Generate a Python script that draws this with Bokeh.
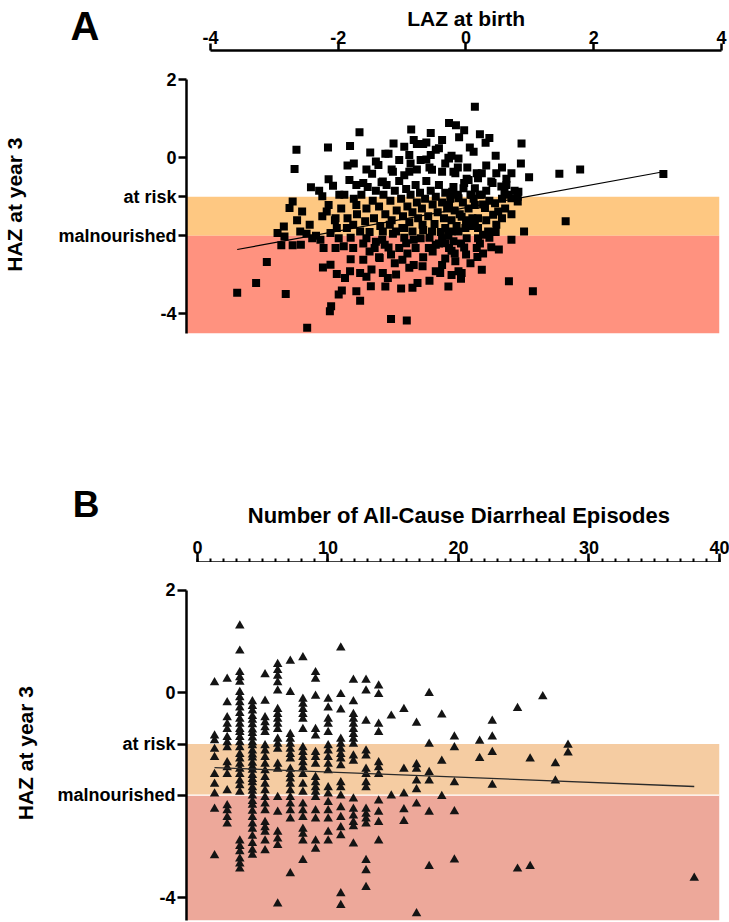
import math
from bokeh.plotting import figure
from bokeh.models import (LinearAxis, FixedTicker, SingleIntervalTicker, Range1d)
from bokeh.layouts import column, row
from bokeh.embed import file_html
from bokeh.resources import INLINE

# ---------------- data ----------------
at_risk = -1
malnourished = -2
haz_ticks = [2, 0, -1, -2, -4]
haz_tick_labels = {2: "2", 0: "0", -1: "at risk", -2: "malnourished", -4: "-4"}
laz_ticks = [-4, -2, 0, 2, 4]
laz_title = "LAZ at birth"
diarr_title = "Number of All-Cause Diarrheal Episodes"
haz_title = "HAZ at year 3"
panel_a_letter = "A"
panel_b_letter = "B"

# Panel A: LAZ at birth vs HAZ at year 3
laz_birth = [
    -2.71, -2.74, -2.21, -1.86, -1.71, -1.54, -1.80, -1.41, -1.51, -1.17, -1.00, -0.89, -0.80, -0.65,
    -0.58, -0.45, -0.29, -0.18, -0.13, -2.48, -2.30, -2.13, -2.03, -1.87, -1.76, -1.65, -1.36, -2.77,
    -2.82, -2.62, -2.91, -3.01, -2.90, -2.65, -2.50, -2.95, -2.77, -2.64, -2.46, -3.18, -3.35, -3.65,
    -2.88, -2.54, -2.18, -2.16, -2.04, -1.99, -1.76, -1.70, -1.53, -1.21, -0.96, -2.29, -2.17, -2.07,
    -1.94, -1.86, -1.70, -1.65, -1.52, -1.34, -1.26, -1.13, -1.03, -0.92, -0.87, -0.79, -0.71, -0.50,
    -0.43, -0.35, -0.14, -0.19, -2.28, -2.09, -1.96, -1.81, -2.33, -2.17, -2.04, -1.91, -2.09, -2.23,
    -2.20, -2.07, -1.76, -1.81, -1.62, -1.70, -1.60, -1.47, -1.55, -1.39, -1.31, -1.21, -1.08, -0.97,
    -0.82, -0.74, -0.61, -0.50, -0.40, -0.29, -0.22, -1.34, -1.23, -1.13, -1.03, -0.87, -0.71, -0.56,
    -0.35, -0.14,
    0.12, 0.04, -0.74, -0.92, -1.08, -0.58, -0.56, -0.29, -0.14, -0.40, -0.22, 0.02, 0.15, -0.92,
    -1.18, -1.34,
    0.29, 0.86, 0.85, 0.98, 1.46, 1.79, 3.11, 1.56, 0.90, 0.66, 1.04, 0.23, 0.38, 0.16, -0.09, -0.25,
    -0.02, 0.15, -0.01, 0.17, 0.25, 0.33, 0.46, 0.41, 0.49, 0.44, 0.17, -0.03, 0.17, 0.28, 0.12, -0.09,
    0.80, 0.70, 0.81, 0.59, 0.54, 0.46, 0.62, 0.38, 0.23, 0.17, -0.01, -0.06, 0.12, 0.23, -0.24, -0.19,
    0.07, -0.14, -0.29, 0.12, -0.35, -0.25,
    -1.68, -1.60, -1.58, -1.50, -1.48, -1.45, -1.40, -1.38, -1.33, -1.30, -1.28, -1.22, -1.20, -1.18,
    -1.15, -1.12, -1.08, -1.05, -1.02, -1.00, -0.97, -0.95, -0.92, -0.90, -0.87, -0.85, -0.82, -0.80,
    -0.78, -0.75, -0.72, -0.70, -0.67, -0.65, -0.62, -0.60, -0.58, -0.55, -0.52, -0.50, -0.47, -0.45,
    -0.42, -0.40, -0.37, -0.35, -0.32, -0.30, -0.27, -0.25, -0.22, -0.20, -0.17, -0.15, -0.12, -0.10,
    -0.07, -0.05, -0.02, 0.02, 0.05, 0.08, -1.55, -1.35, -1.25, -1.00, -0.95, -0.70, -0.55, -0.45,
    -0.20, -0.05, -1.45, -1.85, -1.90, -2.00, -1.95, -1.80, -1.75, -2.10, -2.30, -2.40, -2.55, -2.70,
    -1.65, -1.40, -1.15, -0.85, -0.60, -0.30, -0.10, -1.05, -1.30, -1.60, -1.85, -0.40, -0.25, 0.05,
    0.25, 0.30, 0.35, 0.30, 0.40, 0.55, 0.60, 0.65, 0.70, 0.55, 0.45, 0.35, 0.50, 0.70, 0.62, 0.75,
    0.80, 0.25, 0.20, 0.10, 0.05, 0.20, -0.15, -0.35, -0.60, -0.80, -1.00, -1.20, -1.45, -1.30, -0.50,
    -0.70, -0.25, 0.00, 0.10, 0.30, 0.45, 0.55, 0.70, 0.20, 0.35, -0.05, -0.40, -0.85, -1.25, -1.60,
    -2.20, -2.35, -1.90, -0.90, -0.65, -0.30,
]
haz_a = [
    0.20, -0.29, 0.26, 0.30, 0.65, 0.13, -0.15, -0.19, -0.41, 0.36, 0.28, 0.72, 0.35, 0.39,
    0.63, 0.24, 0.89, 0.83, 0.52, -0.76, -0.99, -0.72, -0.95, -0.57, -0.70, -0.65, -0.63, -1.12,
    -1.29, -1.38, -1.76, -1.93, -2.02, -1.89, -1.72, -2.24, -2.24, -2.23, -2.06, -2.67, -3.21, -3.46,
    -3.49, -4.35, -3.93, -3.80, -3.50, -3.40, -3.42, -3.66, -3.29, -4.13, -4.17, -2.81, -2.74, -2.98,
    -3.08, -2.91, -2.95, -2.61, -2.86, -2.95, -3.08, -2.99, -2.61, -2.82, -3.33, -3.21, -2.78, -2.91,
    -2.95, -2.58, -2.91, -2.65, -2.31, -2.31, -2.27, -2.31, -2.10, -1.93, -2.06, -1.80, -1.55, -1.38,
    -1.21, -1.80, -1.21, -1.72, -1.63, -1.89, -2.06, -2.31, -2.40, -2.57, -2.23, -2.48, -2.31, -2.19,
    -2.31, -2.06, -2.31, -2.23, -2.06, -2.31, -2.14, -1.89, -1.72, -1.89, -1.80, -1.89, -1.72, -1.89,
    -1.80, -1.89,
    1.30, 0.26, -0.06, 0.07, -0.06, 0.07, -0.31, -0.02, -0.02, -0.36, -0.36, -0.57, -0.40, -0.36,
    -0.36, -0.61,
    0.38, 0.36, -0.15, -0.50, -0.41, -0.30, -0.42, -1.63, -1.89, -3.16, -3.42, -2.87, -2.29, -2.54,
    -2.95, -2.38, -2.48, -2.31, -2.06, -2.06, -1.97, -1.89, -1.72, -1.46, -1.38, -1.17, -1.80, -1.80,
    -1.55, -1.29, -1.21, -1.51, -1.12, -1.04, -0.87, -0.87, -0.74, -0.40, -0.54, -0.61, -0.40, -0.53,
    -0.54, -0.78, -0.78, -0.95, -0.87, -0.40, -0.95, -1.04, -1.21, -1.72, -2.19, -1.89,
    -0.95, -1.30, -0.75, -1.10, -1.55, -0.85, -1.25, -1.75, -0.95, -1.45, -0.70, -1.10, -1.60, -1.95,
    -0.85, -1.35, -0.60, -1.05, -1.50, -1.80, -0.80, -1.25, -1.65, -0.95, -1.40, -2.10, -0.70, -1.15,
    -1.55, -0.90, -1.30, -1.85, -1.05, -0.60, -1.50, -2.05, -0.85, -1.20, -1.70, -1.00, -1.40, -0.70,
    -1.90, -1.15, -1.55, -0.90, -1.30, -2.00, -1.05, -1.60, -0.75, -1.35, -1.75, -0.95, -1.45, -2.20,
    -1.15, -0.65, -1.60, -1.30, -0.95, -1.55, -1.90, -2.10, -2.30, -2.05, -2.45, -2.55, -2.40, -2.20,
    -2.45, -2.30, -2.15, -2.05, -1.55, -1.30, -0.95, -1.05, -1.45, -1.60, -1.50, -2.00, -1.95, -1.60,
    -2.20, -2.55, -2.70, -2.75, -3.15, -3.30, -3.10, -3.35, -3.30, -3.05, -2.60, -2.75, -3.00, -2.70,
    -2.45, -1.60, -1.10, -0.85, -0.65, -1.05, -1.30, -0.95, -1.45, -1.55, -1.90, -2.05, -2.35, -2.10,
    -0.70, -0.85, -1.00, -1.20, -0.95, -1.05, -1.75, -2.20, -0.25, -0.15, -0.25, -0.30, -0.45, -0.30,
    -0.10, 0.10, 0.20, 0.35, 0.05, -0.25, 0.15, -0.20, 0.05, -0.25, -0.40, 0.60, 0.50, 0.70, 0.45,
    0.45, 0.10, -0.30, -0.55, -0.85, -0.20, -0.15, -0.05, 0.00,
]
fit_a_x = [-3.65, 3.11]
fit_a_y = [-2.35, -0.36]

# Panel B: number of all-cause diarrheal episodes vs HAZ at year 3
episodes = [
    0, 0, 0, 0, 0, 0, 0, 0, 0, 0,
    1, 1, 1, 1, 1, 1, 1, 1, 1, 1, 1, 1, 1, 1, 1, 1,
    2, 2, 2, 2, 2, 2, 2, 2, 2, 2, 2, 2, 2, 2, 2, 2, 2, 2, 2, 2, 2, 2, 2, 2, 2, 2, 2, 2, 2, 2, 2,
    3, 3, 3, 3, 3, 3, 3, 3, 3, 3, 3, 3, 3, 3, 3, 3, 3, 3, 3, 3, 3, 3, 3, 3, 3, 3, 3, 3, 3, 3, 3, 3, 3,
    4, 4, 4, 4, 4, 4, 4, 4, 4, 4, 4, 4, 4, 4, 4, 4, 4, 4, 4, 4, 4, 4,
    5, 5, 5, 5, 5, 5, 5, 5, 5, 5, 5, 5, 5, 5, 5, 5, 5, 5, 5, 5, 5,
    6, 6, 6, 6, 6, 6, 6, 6, 6, 6, 6, 6, 6, 6, 6, 6, 6, 6,
    7, 7, 7, 7, 7, 7, 7, 7, 7, 7, 7, 7, 7, 7, 7, 7, 7, 7, 7, 7, 7, 7,
    8, 8, 8, 8, 8, 8, 8, 8, 8, 8, 8, 8, 8, 8, 8, 8, 8,
    9, 9, 9, 9, 9, 9, 9, 9, 9, 9, 9, 9, 9, 9, 9, 9, 9,
    10, 10, 10, 10, 10, 10, 10, 10, 10, 10, 10, 10, 10, 10, 10, 10, 10, 10,
    11, 11, 11, 11, 11, 11, 11, 11, 11, 11, 11, 11, 11, 11, 11, 11, 11,
    12, 12, 12, 12, 12, 12, 12, 12, 12, 12, 12, 12, 12, 12, 12, 12,
    13, 13, 13, 13, 13, 13, 13, 13, 13, 13, 13,
    14, 14,
    15, 15, 15, 15, 15,
    16, 16, 16, 16, 16, 16, 16,
    17, 17, 17, 17, 17, 17,
    18, 18, 18,
    19, 19, 19, 19, 19,
    21, 21,
    22, 22, 22, 22,
    24, 24,
    25, 25,
    26,
    27, 27,
    28, 28,
    38,
]
haz_b = [
    0.20, -0.84, -0.93, -1.10, -1.26, -1.59, -1.78, -1.97, -2.27, -3.18,
    0.27, -0.19, -0.48, -0.61, -0.71, -0.87, -0.97, -1.07, -1.36, -1.46, -1.59, -1.91, -2.20, -2.30, -2.43, -2.56,
    1.31, 0.82, 0.40, 0.30, 0.21, 0.01, -0.09, -0.19, -0.29, -0.40, -0.51, -0.61, -0.71, -0.77, -0.87, -0.97,
    -1.07, -1.20, -1.29, -1.39, -1.49, -1.59, -1.72, -1.81, -1.94, -2.89, -3.00, -3.10, -3.24, -3.34, -3.44,
    -0.17, -0.26, -0.35, -0.46, -0.53, -0.62, -0.72, -0.79, -0.88, -0.97, -1.03, -1.13, -1.21, -1.27, -1.37,
    -1.45, -1.51, -1.61, -1.69, -1.75, -1.85, -1.92, -2.01, -2.12, -2.19, -2.31, -2.43, -2.56, -2.66, -2.80,
    -2.94, -3.07, -3.17,
    0.36, -0.16, -0.48, -0.58, -0.68, -0.77, -1.03, -1.13, -1.26, -1.39, -1.52, -1.65, -1.78, -1.91, -2.04,
    -2.17, -2.30, -2.53, -2.63, -2.72, -2.89, -3.08,
    0.56, 0.44, 0.33, 0.20, 0.04, -0.32, -0.42, -0.51, -0.61, -0.71, -0.90, -1.00, -1.10, -1.39, -1.49,
    -2.04, -2.33, -2.72, -2.85, -2.98, -4.12,
    0.62, 0.01, -0.81, -0.90, -1.00, -1.10, -1.20, -1.29, -1.49, -1.59, -1.68, -1.78, -1.91, -2.04, -2.17,
    -2.30, -2.46, -3.53,
    0.69, -0.12, -0.22, -0.32, -0.42, -0.51, -0.71, -1.07, -1.16, -1.26, -1.36, -1.46, -1.59, -1.78, -1.94,
    -2.17, -2.30, -2.43, -2.66, -2.76, -2.89, -3.27,
    0.40, 0.27, -0.06, -0.71, -0.84, -1.16, -1.26, -1.39, -1.65, -1.75, -1.85, -1.94, -2.04, -2.30, -2.46,
    -2.89, -3.05,
    -0.12, -0.29, -0.51, -0.61, -0.77, -1.03, -1.13, -1.26, -1.39, -1.52, -1.85, -1.97, -2.14, -2.30, -2.46,
    -2.72, -2.89,
    0.88, -0.03, -0.33, -0.90, -1.00, -1.10, -1.20, -1.29, -1.42, -1.75, -1.85, -2.01, -2.24, -2.43, -2.63,
    -2.79, -3.92, -4.15,
    0.25, -0.17, -0.42, -0.51, -0.61, -0.71, -0.81, -0.90, -1.00, -1.23, -1.33, -2.07, -2.27, -2.40, -2.53,
    -2.61, -2.95,
    0.25, 0.04, -0.55, -1.13, -1.23, -1.49, -1.59, -1.75, -1.85, -2.27, -2.37, -2.46, -2.56, -3.27, -3.47, -3.80,
    0.14, -0.03, -0.61, -0.77, -1.36, -1.46, -1.59, -2.11, -2.33, -2.53, -2.89,
    -0.45, -2.01,
    -0.32, -1.49, -1.97, -2.28, -2.51,
    -0.59, -1.40, -1.49, -1.72, -1.89, -2.17, -4.31,
    -0.01, -1.00, -1.55, -1.72, -2.33, -3.39,
    -0.43, -1.33, -2.02,
    -0.86, -1.07, -1.75, -2.32, -3.26,
    -0.94, -1.28,
    -0.55, -0.86, -1.16, -1.80,
    -0.30, -3.44,
    -1.29, -3.39,
    -0.07,
    -1.38, -1.72,
    -1.02, -1.17,
    -3.62,
]
fit_b_x = [0, 38]
fit_b_y = [-1.46, -1.83]
episode_axis = (0, 40)

# ---------------- styling ----------------
FONT = "Liberation Sans"
AX_W = 2.5
NB = "\u00a0"
COMMON = dict(output_backend="svg", toolbar_location=None,
              x_axis_location=None, y_axis_location=None)


def clean(p):
    p.outline_line_color = None
    p.xgrid.visible = False
    p.ygrid.visible = False


def style_left_axis(ax, tick_len, label_standoff):
    ax.axis_line_width = AX_W
    ax.major_tick_line_width = AX_W
    ax.major_tick_out = tick_len
    ax.major_tick_in = 0
    ax.minor_tick_out = 0
    ax.minor_tick_in = 0
    ax.major_label_standoff = 2
    ax.major_label_text_font = FONT
    ax.major_label_text_font_style = "bold"
    ax.major_label_text_font_size = "18px"
    ax.major_label_text_color = "black"
    ax.axis_label_text_font = FONT
    ax.axis_label_text_font_style = "bold"
    ax.axis_label_text_font_size = "21px"
    ax.axis_label_text_color = "black"
    ax.axis_label_standoff = label_standoff


def style_top_axis(ax, tick_len, title_size, title_standoff):
    ax.axis_line_width = AX_W
    ax.major_tick_line_width = AX_W
    ax.major_tick_out = tick_len
    ax.major_tick_in = 0
    ax.major_label_standoff = 0
    ax.major_label_text_font = FONT
    ax.major_label_text_font_style = "bold"
    ax.major_label_text_font_size = "18px"
    ax.major_label_text_color = "black"
    ax.axis_label_text_font = FONT
    ax.axis_label_text_font_style = "bold"
    ax.axis_label_text_font_size = title_size
    ax.axis_label_text_color = "black"
    ax.axis_label_standoff = title_standoff


def letter_fig(w, h, border_top, text, center_x, size, standoff):
    # panel letter drawn as the single tick label of a bare top axis
    f = figure(width=w, height=h, x_range=Range1d(-center_x, w - center_x), y_range=Range1d(0, 1),
               min_border_left=0, min_border_right=0, min_border_top=border_top, min_border_bottom=0,
               **COMMON)
    clean(f)
    ax = LinearAxis(ticker=FixedTicker(ticks=[0]), major_label_overrides={0: text})
    ax.axis_line_color = None
    ax.major_tick_line_color = None
    ax.minor_tick_line_color = None
    ax.major_tick_out = 0
    ax.major_tick_in = 0
    ax.minor_tick_out = 0
    ax.minor_tick_in = 0
    ax.major_label_standoff = standoff
    ax.major_label_text_font = FONT
    ax.major_label_text_font_style = "bold"
    ax.major_label_text_font_size = size
    ax.major_label_text_color = "black"
    f.add_layout(ax, "above")
    return f


# ---------------- panel A ----------------
xa0, xa1 = -4.454, 4.0
ya0, ya1 = -4.5, 2.691
xr_a = Range1d(xa0, xa1)

top_a = figure(width=548, height=52, x_range=xr_a, y_range=Range1d(0, 1),
               min_border_left=0, min_border_right=8, min_border_top=48, min_border_bottom=0,
               **COMMON)
clean(top_a)
ax_a_top = LinearAxis(bounds=(laz_ticks[0], laz_ticks[-1]), ticker=FixedTicker(ticks=laz_ticks),
                      major_label_overrides={t: str(t) for t in laz_ticks},
                      axis_label=NB * 5 + laz_title)
style_top_axis(ax_a_top, 7, "21px", -2)
top_a.add_layout(ax_a_top, "above")

let_a = letter_fig(181, 52, 48, panel_a_letter, 84.5, "40px", 3)

pa = figure(width=729, height=428, x_range=xr_a, y_range=Range1d(ya0, ya1),
            min_border_left=181, min_border_right=8, min_border_top=0, min_border_bottom=147,
            **COMMON)
clean(pa)
pa.quad(left=xa0, right=xa1, top=at_risk, bottom=malnourished,
        fill_color="#FEC882", line_color=None)
pa.quad(left=xa0, right=xa1, top=malnourished, bottom=ya0,
        fill_color="#FF927F", line_color=None)
pa.scatter(laz_birth, haz_a, marker="square", size=8, fill_color="black", line_color=None)
pa.line(fit_a_x, fit_a_y, line_color="black", line_width=1.2)

ax_a_left = LinearAxis(bounds=(ya0, haz_ticks[0]), ticker=FixedTicker(ticks=haz_ticks),
                       major_label_overrides=haz_tick_labels,
                       axis_label=haz_title + NB * 4)
style_left_axis(ax_a_left, 8, 29)
pa.add_layout(ax_a_left, "left")

# ---------------- panel B ----------------
xb0, xb1 = -2.222, 40.0
yb0, yb1 = -4.449, 2.547
xr_b = Range1d(xb0, xb1)

top_b = figure(width=561, height=82, x_range=xr_b, y_range=Range1d(0, 1),
               min_border_left=0, min_border_right=10, min_border_top=80, min_border_bottom=0,
               **COMMON)
clean(top_b)
ax_b_top = LinearAxis(bounds=episode_axis, ticker=SingleIntervalTicker(interval=10, num_minor_ticks=10),
                      axis_label=NB * 5 + diarr_title)
style_top_axis(ax_b_top, 9, "22px", 10)
ax_b_top.minor_tick_out = 4
ax_b_top.minor_tick_in = 0
ax_b_top.minor_tick_line_width = 2
top_b.add_layout(ax_b_top, "above")

let_b = letter_fig(168, 82, 80, panel_b_letter, 85.5, "37px", 38)

pb = figure(width=729, height=360, x_range=xr_b, y_range=Range1d(yb0, yb1),
            min_border_left=168, min_border_right=10, min_border_top=0, min_border_bottom=2,
            **COMMON)
clean(pb)
pb.quad(left=xb0, right=xb1, top=at_risk, bottom=malnourished,
        fill_color="#F5CCA2", line_color=None)
pb.quad(left=xb0, right=xb1, top=malnourished, bottom=yb0,
        fill_color="#EDA89A", line_color=None)
pb.line([xb0, xb1], [malnourished, malnourished], line_color="white", line_width=1.2)
pb.scatter(episodes, haz_b, marker="triangle", size=9.5, fill_color="#141414", line_color=None)
pb.line(fit_b_x, fit_b_y, line_color="#2a2a2a", line_width=1.3)

ax_b_left = LinearAxis(bounds=(yb0, haz_ticks[0]), ticker=FixedTicker(ticks=haz_ticks),
                       major_label_overrides=haz_tick_labels,
                       axis_label=haz_title + NB * 4)
style_left_axis(ax_b_left, 9, 17)
pb.add_layout(ax_b_left, "left")

layout = column(row(let_a, top_a), pa, row(let_b, top_b), pb)
open("out.html", "w").write(file_html(layout, INLINE))
